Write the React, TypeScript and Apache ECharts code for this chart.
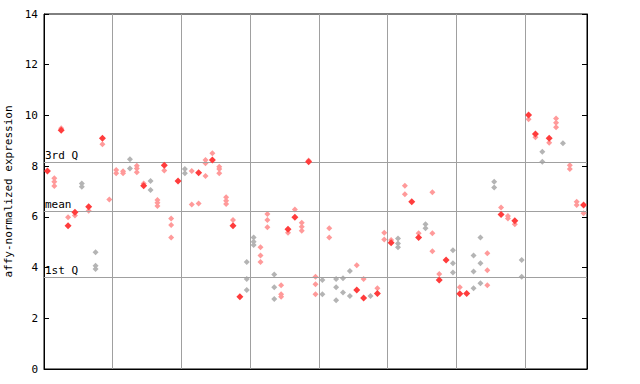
import React, { useEffect, useRef } from "react";
import * as echarts from "echarts";

const yTicks = [0, 2, 4, 6, 8, 10, 12, 14];
const sampleCount = 79;
const groupBoundaries = [9.5, 19.5, 29.5, 39.5, 49.5, 59.5, 69.5];
const quartiles = [
  { name: "3rd Q", value: 8.15 },
  { name: "mean", value: 6.23 },
  { name: "1st Q", value: 3.63 },
];

// [sample index, value] of solid (highlighted) marks
const filledPoints: number[][] = [
  [0, 7.81], [2, 9.42], [3, 5.65], [4, 6.18], [6, 6.4], [8, 9.1], [14, 7.23], [17, 8.04],
  [19, 7.41], [22, 7.74], [24, 8.24], [27, 5.65], [28, 2.85], [35, 5.51], [36, 5.98],
  [38, 8.17], [45, 3.12], [46, 2.8], [48, 2.98], [50, 4.98], [53, 6.6], [54, 5.19],
  [57, 3.51], [58, 4.3], [60, 2.97], [61, 2.98], [66, 6.09], [68, 5.85], [70, 10.02],
  [71, 9.27], [73, 9.1], [78, 6.47],
];

// other replicate values per sample
const openValues: number[][] = [
  [], [7.52, 7.38, 7.22], [9.49], [5.98], [6.05], [7.32, 7.19], [6.24], [4.6, 4.07, 3.94],
  [8.86], [6.68], [7.85, 7.72], [7.8, 7.72], [8.27, 7.91], [8.02, 7.91, 7.76], [7.32],
  [7.41, 7.06], [6.66, 6.56, 6.43], [7.83], [5.94, 5.68, 5.19], [], [7.89, 7.72],
  [7.81, 6.49], [6.53], [8.24, 8.11, 7.61], [8.51], [7.98, 7.89, 7.72], [6.77, 6.64, 6.51],
  [5.88], [], [4.22, 3.55, 3.12], [5.19, 5.02, 4.89], [4.8, 4.48, 4.22], [6.11, 5.88, 5.59],
  [3.73, 3.22, 2.76], [3.3, 2.95, 2.85], [5.37], [6.29], [5.77, 5.61, 5.45], [8.22],
  [3.64, 3.34, 2.95], [3.51, 2.95], [5.55, 5.19], [3.55, 3.22, 2.71], [3.58, 3.02],
  [3.86, 2.88], [4.09], [3.55], [2.88], [3.18], [5.37, 5.11], [5.09], [5.15, 4.95, 4.8],
  [7.23, 6.89], [], [5.35], [5.71, 5.55], [6.97, 5.35, 4.64], [3.75], [],
  [4.68, 4.17, 3.81], [3.22], [], [4.48, 3.85, 3.18], [5.19, 4.17, 3.38], [4.56, 3.89, 3.3],
  [7.38, 7.16], [6.37], [6.03, 5.94], [5.71], [4.3, 3.64], [9.85], [9.14], [8.57, 8.17],
  [8.92], [9.88, 9.71, 9.53], [8.9], [8.04, 7.89], [6.6, 6.47], [6.14],
];

const graySamples = [5, 7, 12, 15, 20, 29, 30, 33, 40, 42, 43, 44, 47, 51, 55, 59, 62, 63, 65, 69, 72, 75];

const FONT = "DejaVu Sans Mono";

export default function App() {
  const ref = useRef<HTMLDivElement>(null);
  useEffect(() => {
    if (!ref.current) return;
    const chart = echarts.init(ref.current, null, { renderer: "svg" });
    const pinkPts: number[][] = [];
    const grayPts: number[][] = [];
    openValues.forEach((vals, i) => {
      vals.forEach((v) => {
        (graySamples.includes(i) ? grayPts : pinkPts).push([i, v]);
      });
    });
    const yAxisBase = {
      type: "value",
      min: yTicks[0],
      max: yTicks[yTicks.length - 1],
      interval: 2,
      splitLine: { show: false },
      axisLine: { show: true, onZero: false, lineStyle: { color: "#000", width: 1 } },
      axisTick: { show: true, inside: true, length: 5, lineStyle: { color: "#000" } },
    };
    chart.setOption({
      animation: false,
      grid: {
        left: 44,
        right: 53,
        top: 14,
        bottom: 15,
        containLabel: false,
        outerBoundsMode: "none",
        show: true,
        borderColor: "#000",
        borderWidth: 1,
        backgroundColor: "#fff",
      },
      xAxis: {
        type: "value",
        min: -0.5,
        max: sampleCount - 0.5,
        axisLine: { show: true, onZero: false, lineStyle: { color: "#000" } },
        axisTick: { show: false },
        axisLabel: { show: false },
        splitLine: { show: false },
      },
      yAxis: [
        {
          ...yAxisBase,
          position: "left",
          name: "affy-normalized expression",
          nameLocation: "middle",
          nameGap: 27,
          nameRotate: 90,
          nameTextStyle: { fontFamily: FONT, fontSize: 11, color: "#000" },
          axisLabel: { show: true, fontFamily: FONT, fontSize: 11, color: "#000", margin: 6 },
        },
        {
          ...yAxisBase,
          position: "right",
          axisLabel: { show: false },
        },
      ],
      series: [
        {
          type: "line",
          data: [],
          z: 1,
          silent: true,
          markLine: {
            silent: true,
            symbol: "none",
            animation: false,
            lineStyle: { color: "#a0a0a0", width: 1, type: "solid" },
            label: {
              show: true,
              position: "insideStartTop",
              fontFamily: FONT,
              fontSize: 11,
              color: "#000",
              distance: [1, 1],
            },
            data: [
              ...groupBoundaries.map((x) => ({ xAxis: x, label: { show: false } })),
              ...quartiles.map((q) => ({ yAxis: q.value, label: { formatter: q.name } })),
            ],
          },
        },
        {
          type: "scatter",
          z: 3,
          symbol: "diamond",
          symbolSize: 6,
          itemStyle: { color: "#b4b4b4", opacity: 1 },
          data: grayPts,
        },
        {
          type: "scatter",
          z: 4,
          symbol: "diamond",
          symbolSize: 6,
          itemStyle: { color: "#ff9a9a", opacity: 1 },
          data: pinkPts,
        },
        {
          type: "scatter",
          z: 5,
          symbol: "diamond",
          symbolSize: 7,
          itemStyle: { color: "#ff3c3c", opacity: 1 },
          data: filledPoints,
        },
      ],
    });
    return () => chart.dispose();
  }, []);
  return <div ref={ref} style={{ width: 640, height: 384, position: "absolute", left: 0, top: 0 }} />;
}
